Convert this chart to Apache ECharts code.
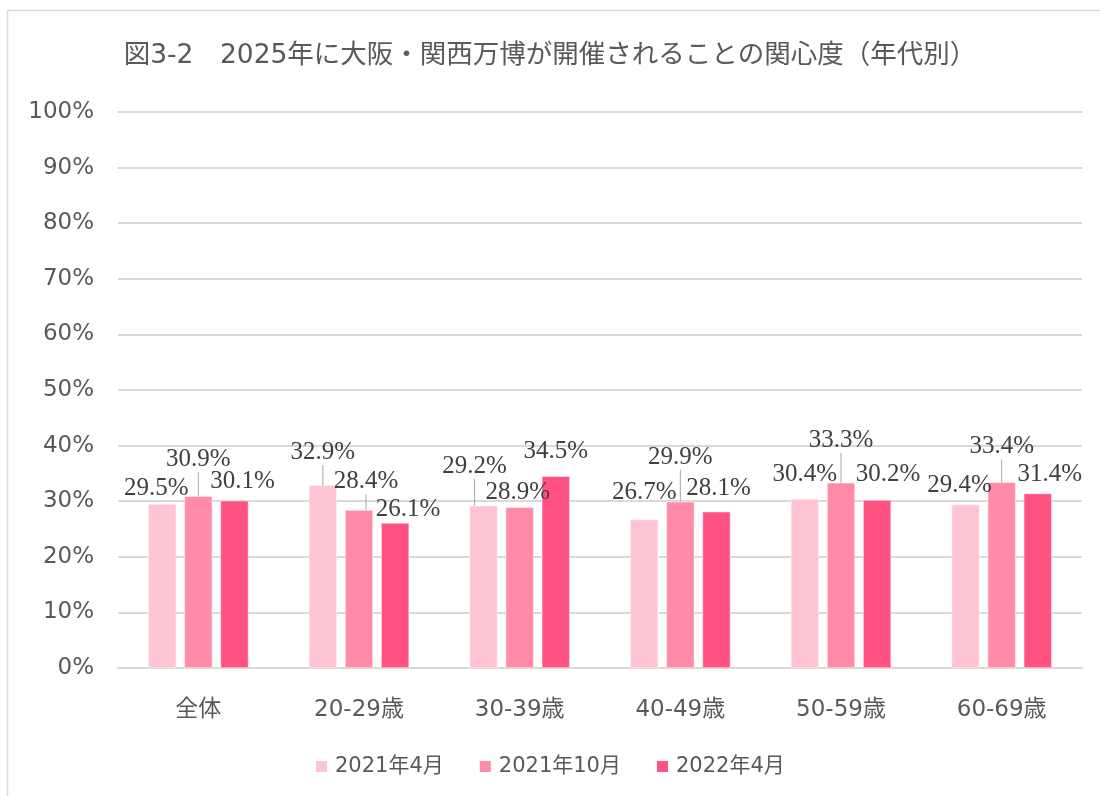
<!DOCTYPE html>
<html><head><meta charset="utf-8">
<script src="https://cdn.jsdelivr.net/npm/echarts@6/dist/echarts.min.js"></script>
<style>html,body{margin:0;padding:0;background:#fff}#c{width:1100px;height:796px}</style>
</head><body><div id="c"></div>
<script>
const title = '図3-2　2025年に大阪・関西万博が開催されることの関心度（年代別）';
const categories = ['全体', '20-29歳', '30-39歳', '40-49歳', '50-59歳', '60-69歳'];
const seriesNames = ['2021年4月', '2021年10月', '2022年4月'];
const apr2021 = [29.5, 32.9, 29.2, 26.7, 30.4, 29.4];
const oct2021 = [30.9, 28.4, 28.9, 29.9, 33.3, 33.4];
const apr2022 = [30.1, 26.1, 34.5, 28.1, 30.2, 31.4];
const yTicks = [0, 10, 20, 30, 40, 50, 60, 70, 80, 90, 100];

const colors = ['#FFC4D3', '#FF8BA8', '#FF5282'];
// label shifts (dx, dy) per series/category, mimicking the reference label placement
const shifts = [
  [[-6, 2], [0, -15], [-9, -22], [0, -10], [0, -7], [-6, -2]],
  [[0, -19], [7, -11], [-2, 3], [0, -27], [0, -25], [0, -18]],
  [[8, -2], [13, 4], [0, -7], [2, -6], [11, -8], [12, -1]]
];
const leader = [
  [false, true, true, false, false, false],
  [true, true, false, true, true, true],
  [false, false, false, false, false, false]
];
const sansCJK = '"DejaVu Sans", "Noto Sans CJK JP", sans-serif';

function mk(idx, vals) {
  return {
    name: seriesNames[idx], type: 'bar', barWidth: 28, barGap: '29%',
    itemStyle: { color: colors[idx], borderColor: '#fff', borderWidth: 0.5 },
    data: vals.map((v, i) => ({ value: v, labelLine: { show: leader[idx][i] } })),
    label: {
      show: true, position: 'top', distance: 5,
      formatter: p => p.value.toFixed(1) + '%',
      fontFamily: '"Liberation Serif", "DejaVu Serif", serif', fontSize: 25, color: '#404040'
    },
    labelLine: { lineStyle: { color: '#a6a6a6', width: 1 } },
    labelLayout: p => ({ dx: shifts[idx][p.dataIndex][0], dy: shifts[idx][p.dataIndex][1] })
  };
}

const chart = echarts.init(document.getElementById('c'), null, { renderer: 'canvas' });
chart.setOption({
  animation: false,
  textStyle: { fontFamily: sansCJK },
  title: {
    text: title, left: 'center', top: 38,
    textStyle: { fontFamily: sansCJK, fontSize: 26.5, fontWeight: 'normal', color: '#595959' }
  },
  legend: {
    bottom: 14, left: 309, itemWidth: 13, itemHeight: 13, itemGap: 34, icon: 'rect',
    textStyle: { fontFamily: sansCJK, fontSize: 21, color: '#595959', padding: [0, 0, 0, 2] }
  },
  grid: { left: 118, right: 18, top: 112, bottom: 128 },
  xAxis: {
    type: 'category', data: categories,
    axisLine: { lineStyle: { color: '#d9d9d9', width: 2 } },
    axisTick: { show: false },
    axisLabel: { fontFamily: sansCJK, fontSize: 23, color: '#595959', margin: 31 }
  },
  yAxis: {
    type: 'value', min: yTicks[0], max: yTicks[yTicks.length - 1], interval: 10,
    axisLabel: { formatter: v => v + '%', fontFamily: sansCJK, fontSize: 23, color: '#595959', margin: 24 },
    splitLine: { lineStyle: { color: '#d9d9d9', width: 2 } },
    axisLine: { show: false }, axisTick: { show: false }
  },
  graphic: [{
    type: 'rect', shape: { x: 7.5, y: 10.5, width: 1200, height: 900 },
    style: { fill: 'none', stroke: '#d9d9d9', lineWidth: 1.5 }, silent: true
  }],
  series: [mk(0, apr2021), mk(1, oct2021), mk(2, apr2022)]
});
</script></body></html>
